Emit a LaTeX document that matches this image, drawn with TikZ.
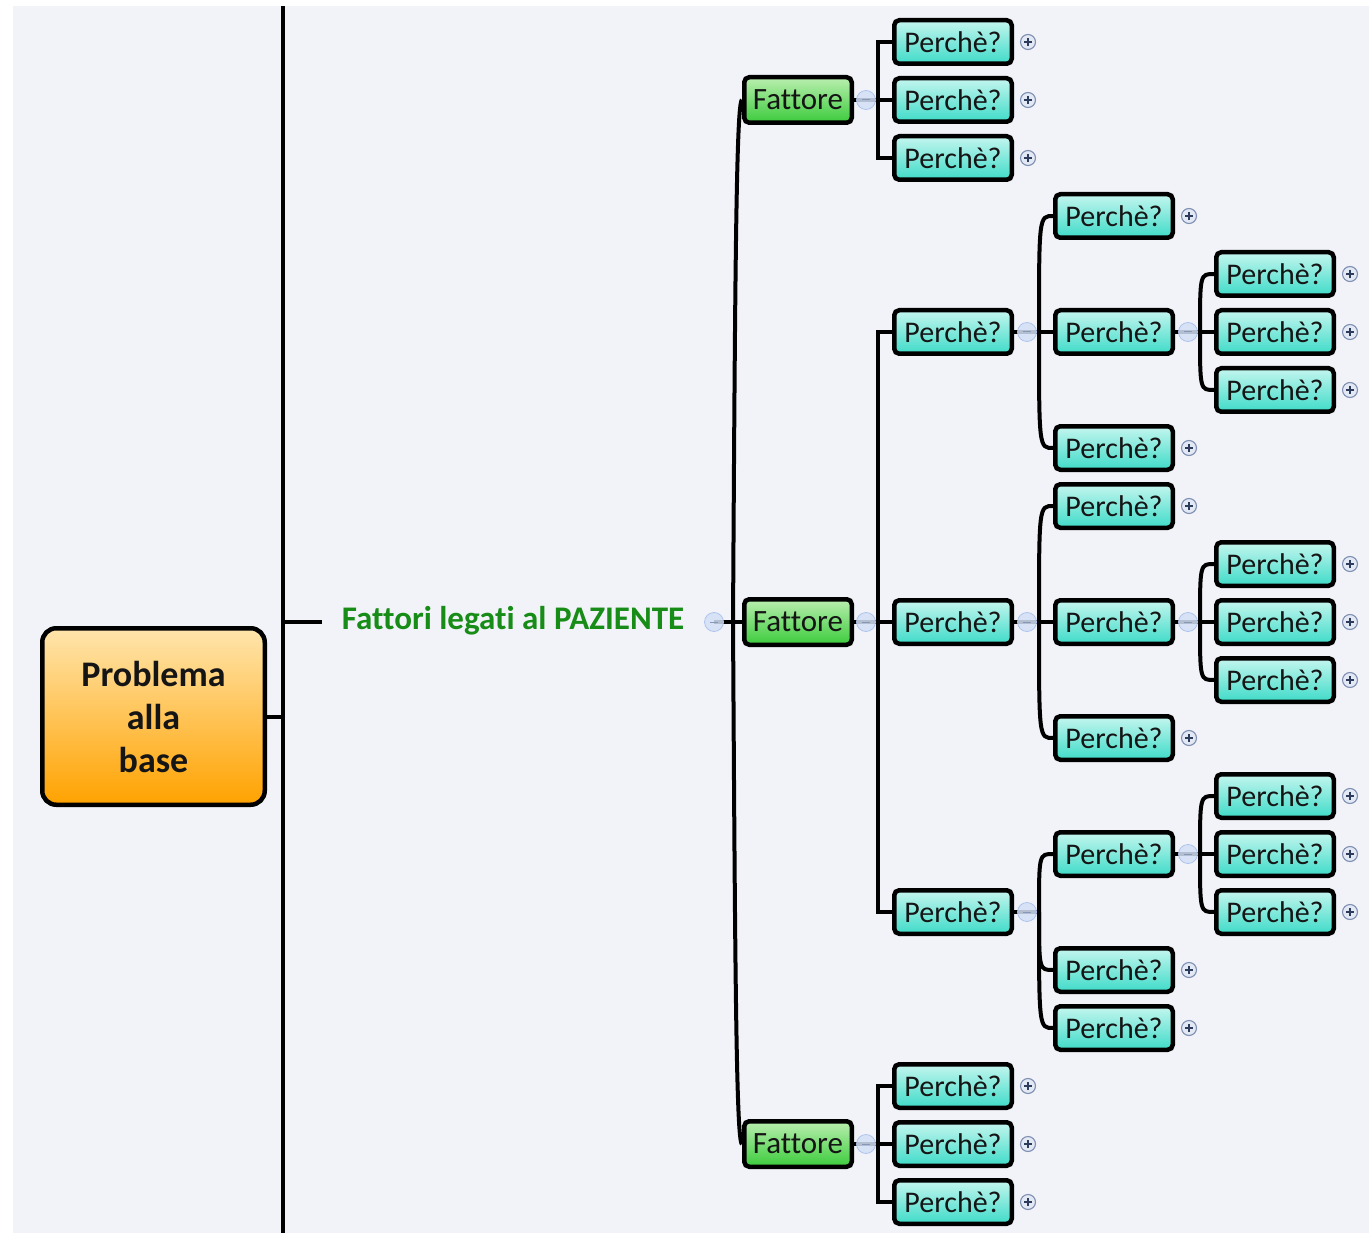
\documentclass[tikz,border=0pt]{standalone}
\usepackage{fontspec}
\setmainfont{Carlito}[Ligatures=NoCommon]
\usetikzlibrary{backgrounds,calc}
\definecolor{bgc}{HTML}{F2F3F9}
\definecolor{pzt}{HTML}{C3F6EF}
\definecolor{pzb}{HTML}{40DBC8}
\definecolor{fat}{HTML}{BAEFB0}
\definecolor{fab}{HTML}{3BCB3B}
\definecolor{rtt}{HTML}{FFE5AC}
\definecolor{rtb}{HTML}{FFA200}
\definecolor{lblg}{HTML}{178C17}
\definecolor{minf}{HTML}{D3E0F6}
\definecolor{mind}{HTML}{AFC4EC}
\definecolor{minl}{HTML}{8797BA}
\definecolor{plsf}{HTML}{E2E8F4}
\definecolor{plsd}{HTML}{7F90B2}
\definecolor{plsl}{HTML}{2E3C5C}
\definecolor{txt}{HTML}{151515}
\begin{document}
\begin{tikzpicture}[x=1pt,y=-1pt,
  conn/.style={line width=4pt, black},
  perch/.style={draw=black, line width=4.5pt, rounded corners=5pt, top color=pzt, bottom color=pzb,
    minimum width=117.5pt, minimum height=43.5pt, inner sep=0pt, text=txt, font=\fontsize{30}{33}\selectfont},
  fbox/.style={draw=black, line width=4.5pt, rounded corners=5pt, top color=fat, bottom color=fab,
    minimum width=107.5pt, minimum height=45.5pt, inner sep=0pt, text=txt, font=\fontsize{31}{34}\selectfont},
  rootbox/.style={draw=black, line width=4.5pt, rounded corners=14pt, top color=rtt, bottom color=rtb,
    minimum width=222.5pt, minimum height=176.5pt, inner sep=0pt, align=center, text=txt,
    font=\fontsize{36}{43}\selectfont\bfseries},
  paz/.style={text=lblg, inner sep=0pt, font=\fontsize{33}{36}\selectfont\bfseries},
  minus/.style={circle, draw=mind, line width=0.8pt, fill=minf, fill opacity=0.85, minimum size=19pt, inner sep=0pt,
    path picture={\draw[minl, line width=1pt, opacity=1] ([xshift=-4pt]path picture bounding box.center) -- ([xshift=4pt]path picture bounding box.center);}},
  plus/.style={circle, draw=plsd, line width=1.1pt, fill=plsf, minimum size=15pt, inner sep=0pt,
    path picture={\draw[plsl, line width=1.1pt] ([xshift=-3.8pt]path picture bounding box.center) -- ([xshift=3.8pt]path picture bounding box.center);
      \draw[plsl, line width=1.1pt] ([yshift=-3.8pt]path picture bounding box.center) -- ([yshift=3.8pt]path picture bounding box.center);}}
]
\useasboundingbox (0,0) rectangle (1369,1233);

% nodes
\node[rootbox] (root) at (153.5,716.5) {Problema\\alla\\base};
\node[paz] (pazl) at (513,621) {Fattori legati al PAZIENTE};
\node[fbox] (f1) at (798,100) {Fattore};
\node[fbox] (f2) at (798,622) {Fattore};
\node[fbox] (f3) at (798,1144) {Fattore};

\node[perch] (a1) at (953,42) {Perchè?};
\node[perch] (a2) at (953,100) {Perchè?};
\node[perch] (a3) at (953,158) {Perchè?};
\node[perch] (b1) at (953,332) {Perchè?};
\node[perch] (b2) at (953,622) {Perchè?};
\node[perch] (b3) at (953,912) {Perchè?};
\node[perch] (c1) at (953,1086) {Perchè?};
\node[perch] (c2) at (953,1144) {Perchè?};
\node[perch] (c3) at (953,1202) {Perchè?};

\node[perch] (b11) at (1114,216) {Perchè?};
\node[perch] (b12) at (1114,332) {Perchè?};
\node[perch] (b13) at (1114,448) {Perchè?};
\node[perch] (b21) at (1114,506) {Perchè?};
\node[perch] (b22) at (1114,622) {Perchè?};
\node[perch] (b23) at (1114,738) {Perchè?};
\node[perch] (b31) at (1114,854) {Perchè?};
\node[perch] (b32) at (1114,970) {Perchè?};
\node[perch] (b33) at (1114,1028) {Perchè?};

\node[perch] (b121) at (1275,274) {Perchè?};
\node[perch] (b122) at (1275,332) {Perchè?};
\node[perch] (b123) at (1275,390) {Perchè?};
\node[perch] (b221) at (1275,564) {Perchè?};
\node[perch] (b222) at (1275,622) {Perchè?};
\node[perch] (b223) at (1275,680) {Perchè?};
\node[perch] (b311) at (1275,796) {Perchè?};
\node[perch] (b312) at (1275,854) {Perchè?};
\node[perch] (b313) at (1275,912) {Perchè?};

% plus icons
\foreach \n in {a1,a2,a3,c1,c2,c3,b11,b13,b21,b23,b32,b33,b121,b122,b123,b221,b222,b223,b311,b312,b313}
  \node[plus] (p\n) at ($(\n.east)+(14,0)$) {};

% minus icons
\node[minus] (m0) at (714,622) {};
\node[minus] (mf1) at (866,100) {};
\node[minus] (mf2) at (866,622) {};
\node[minus] (mf3) at (866,1144) {};
\node[minus] (mb1) at (1027,332) {};
\node[minus] (mb2) at (1027,622) {};
\node[minus] (mb3) at (1027,912) {};
\node[minus] (mb12) at (1188,332) {};
\node[minus] (mb22) at (1188,622) {};
\node[minus] (mb31) at (1188,854) {};

% junctions
\coordinate (vtop) at (283,6);
\coordinate (vbot) at (283,1233);
\coordinate (stubL) at (283,622);
\coordinate (stubR) at (322,622);
\coordinate (j0) at (733,622);
\coordinate (jf1) at (878,100);
\coordinate (jf2) at (878,622);
\coordinate (jf3) at (878,1144);
\coordinate (jb1) at (1039,332);
\coordinate (jb2) at (1039,622);
\coordinate (jb3) at (1039,912);
\coordinate (jb12) at (1200,332);
\coordinate (jb22) at (1200,622);
\coordinate (jb31) at (1200,854);

\begin{scope}[on background layer]
  \fill[white] (0,0) rectangle (1369,1233);
  \fill[bgc] (13,6) rectangle (1369,1233);
  \draw[line width=4.5pt] (vtop) -- (vbot);
  \draw[conn] (root.east) -- (root.east -| vtop);
  \draw[conn] (stubL) -- (stubR);
  % PAZIENTE -> Fattore
  \draw[conn] (m0.center) -- (f2.west);
  \draw[conn] (j0) .. controls (735,300) and (736,100) .. (f1.west);
  \draw[conn] (j0) .. controls (735,944) and (736,1144) .. (f3.west);
  % Fattore -> Perche (elbows)
  \draw[conn] (f1.east) -- (a2.west);
  \draw[conn] (a1.west) -| (jf1 |- a3.west) -- (a3.west);
  \draw[conn] (f2.east) -- (b2.west);
  \draw[conn] (b1.west) -| (jf2 |- b3.west) -- (b3.west);
  \draw[conn] (f3.east) -- (c2.west);
  \draw[conn] (c1.west) -| (jf3 |- c3.west) -- (c3.west);
  % level 1 -> level 2
  \draw[conn] (b1.east) -- (b12.west);
  \draw[conn] (jb1) .. controls (jb1 |- b11.west) .. (b11.west);
  \draw[conn] (jb1) .. controls (jb1 |- b13.west) .. (b13.west);
  \draw[conn] (b2.east) -- (b22.west);
  \draw[conn] (jb2) .. controls (jb2 |- b21.west) .. (b21.west);
  \draw[conn] (jb2) .. controls (jb2 |- b23.west) .. (b23.west);
  \draw[conn] (b3.east) -- (jb3);
  \draw[conn] (jb3) .. controls (jb3 |- b31.west) .. (b31.west);
  \draw[conn] (jb3) .. controls (jb3 |- b32.west) .. (b32.west);
  \draw[conn] (jb3) .. controls (jb3 |- b33.west) .. (b33.west);
  % level 2 -> level 3
  \draw[conn] (b12.east) -- (b122.west);
  \draw[conn] (jb12) .. controls (jb12 |- b121.west) .. (b121.west);
  \draw[conn] (jb12) .. controls (jb12 |- b123.west) .. (b123.west);
  \draw[conn] (b22.east) -- (b222.west);
  \draw[conn] (jb22) .. controls (jb22 |- b221.west) .. (b221.west);
  \draw[conn] (jb22) .. controls (jb22 |- b223.west) .. (b223.west);
  \draw[conn] (b31.east) -- (b312.west);
  \draw[conn] (jb31) .. controls (jb31 |- b311.west) .. (b311.west);
  \draw[conn] (jb31) .. controls (jb31 |- b313.west) .. (b313.west);
\end{scope}
\end{tikzpicture}
\end{document}
